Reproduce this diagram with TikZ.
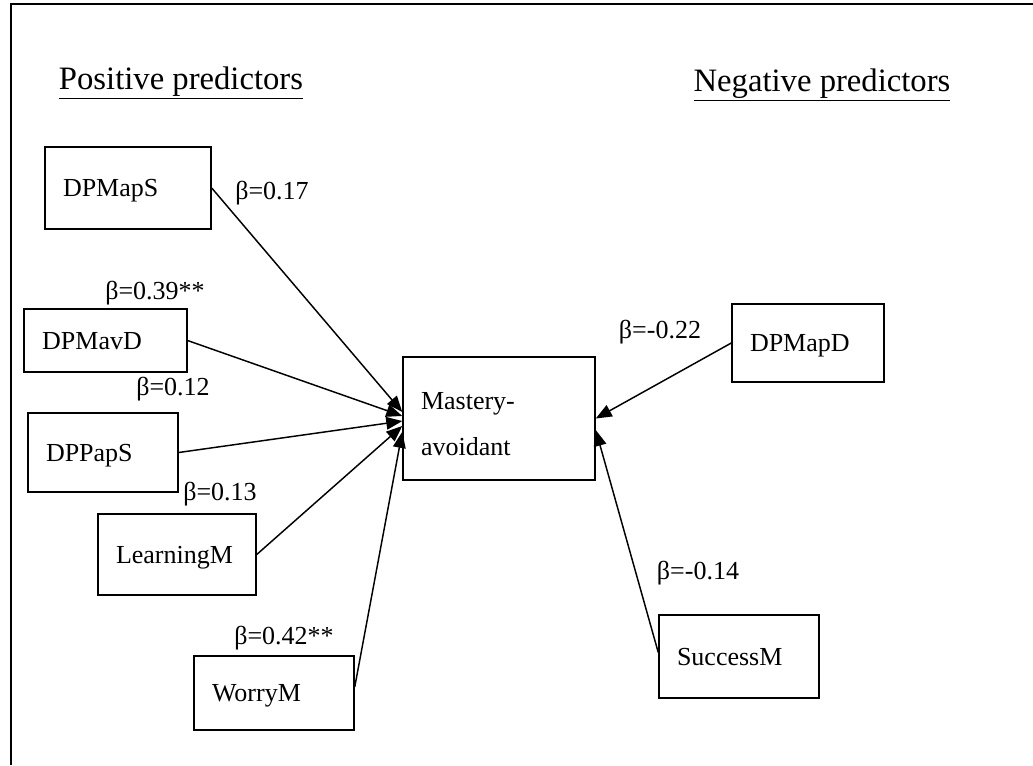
\documentclass[tikz,border=0pt]{standalone}
\usepackage{fontspec}
\setmainfont{Liberation Serif}
\usetikzlibrary{arrows.meta}

\begin{document}
\begin{tikzpicture}[x=0.75pt, y=-0.75pt,
    box/.style={draw, line width=1.1pt, inner xsep=13.5pt, inner ysep=0pt, text depth=0pt, align=left, font=\fontsize{19.5}{34.5}\selectfont},
    coef/.style={font=\fontsize{19.5}{22}\selectfont, inner sep=0pt},
    heading/.style={font=\fontsize{24.5}{28}\selectfont, inner sep=0pt},
    arr/.style={line width=1.1pt, -{Triangle[length=12pt, width=9.5pt]}}]

    % Page size of the reference
    \useasboundingbox (0,0) rectangle (1033,765);

    % Frame (only top and left edges are visible)
    \draw[line width=1.1pt] (1033,4) -- (11,4) -- (11,765);

    % Headings
    \node[heading] (poshead) at (181,83) {\underline{Positive predictors}};
    \node[heading] (neghead) at (822,85) {\underline{Negative predictors}};

    % Outcome
    \node[box, text width=117pt, text depth=27pt, minimum height=92pt] (mastery) at (499,418.5) {Mastery-\\avoidant};

    % Positive predictors
    \node[box, text width=97.5pt, minimum height=61.5pt] (dpmaps) at (128,188) {DPMapS};
    \node[box, text width=95pt, minimum height=47pt] (dpmavd) at (105.5,340.5) {DPMavD};
    \node[box, text width=85.5pt, minimum height=59pt] (dppaps) at (103,452.5) {DPPapS};
    \node[box, text width=91.5pt, minimum height=61pt] (learningm) at (177,554.5) {LearningM};
    \node[box, text width=93pt, minimum height=55.5pt] (worrym) at (274,693) {WorryM};

    % Negative predictors
    \node[box, text width=87pt, minimum height=58.5pt] (dpmapd) at (808,343) {DPMapD};
    \node[box, text width=93pt, minimum height=62pt] (successm) at (739,656.5) {SuccessM};

    % Paths into the outcome
    \draw[arr] (dpmaps.east) -- ([yshift=4.9pt]mastery.west);
    \draw[arr] (dpmavd.east) -- ([yshift=1.9pt]mastery.west);
    \draw[arr] (dppaps.east) -- ([yshift=-1.9pt]mastery.west);
    \draw[arr] (learningm.east) -- ([yshift=-5.6pt]mastery.west);
    \draw[arr] ([yshift=4.5pt]worrym.east) -- ([yshift=-10pt]mastery.west);
    \draw[arr] (dpmapd.west) -- (mastery.east);
    \draw[arr] ([yshift=3pt]successm.west) -- ([yshift=-8.6pt]mastery.east);

    % Coefficients
    \node[coef] (b17) at (272,193) {β=0.17};
    \node[coef] (b39) at (155,293) {β=0.39**};
    \node[coef] (b12) at (173,389) {β=0.12};
    \node[coef] (b13) at (220,494) {β=0.13};
    \node[coef] (b42) at (284,638) {β=0.42**};
    \node[coef] (b22) at (660,332) {β=-0.22};
    \node[coef] (b14) at (698,573) {β=-0.14};

\end{tikzpicture}
\end{document}
